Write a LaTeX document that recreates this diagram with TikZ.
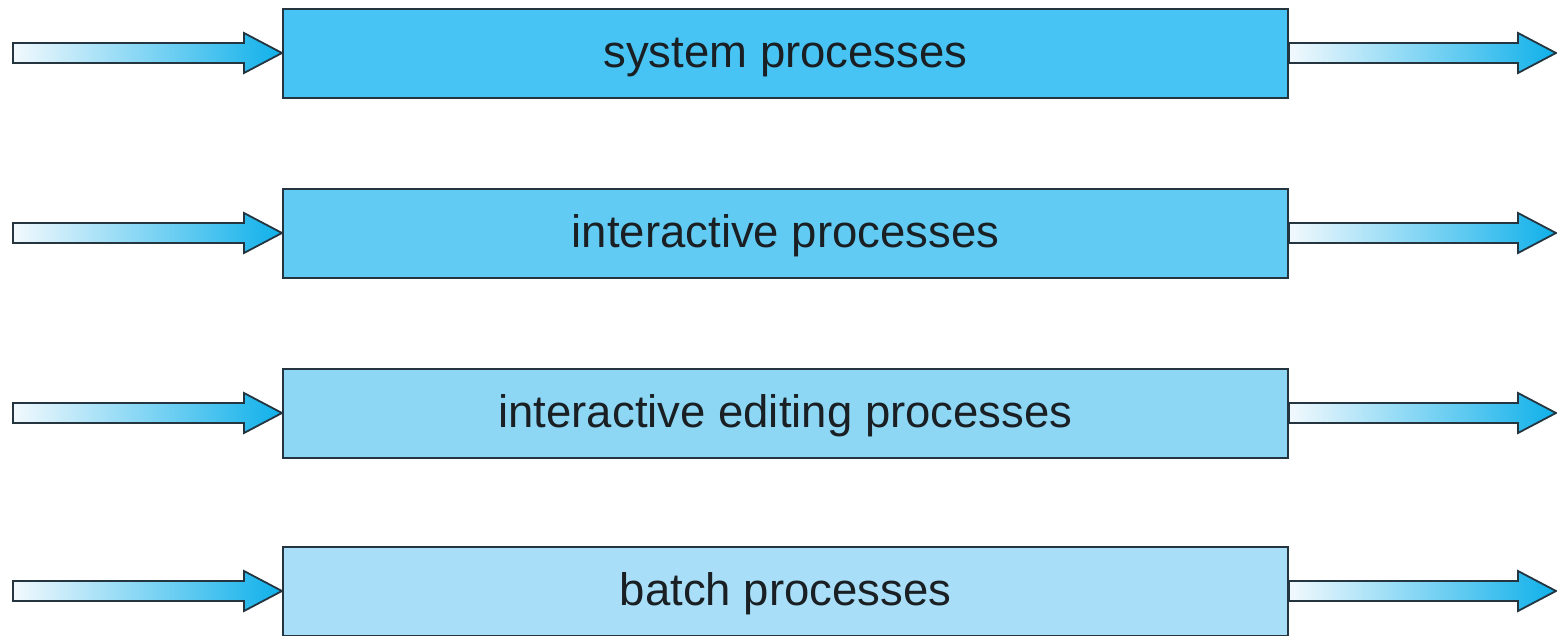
\documentclass[tikz,border=0pt]{standalone}
\usepackage{fontspec}
\setmainfont{Liberation Sans}
\usetikzlibrary{calc}
\definecolor{edge}{HTML}{243540}
\definecolor{txt}{HTML}{1A1F24}
\definecolor{cA}{HTML}{47C4F3}
\definecolor{cB}{HTML}{62CBF3}
\definecolor{cC}{HTML}{8DD7F5}
\definecolor{cD}{HTML}{A8DEF7}
\definecolor{arrL}{HTML}{F2F9FD}
\definecolor{arrR}{HTML}{0FB0EA}
\newcommand\fatarr[2]{%
  \path[fatarrow] let \p1=(#1), \p2=(#2) in
    (\x1,\y2+10pt) -- (\x2-38pt,\y2+10pt) -- (\x2-38pt,\y2+20pt) -- (\x2,\y2)
    -- (\x2-38pt,\y2-20pt) -- (\x2-38pt,\y2-10pt) -- (\x1,\y2-10pt) -- cycle;}
\begin{document}
\begin{tikzpicture}[x=1pt,y=-1pt,
  proc/.style={draw=edge, line width=2pt, minimum width=1005pt, minimum height=89pt,
    inner sep=0pt, text height=33pt, text depth=5pt,
    font=\fontsize{45.5}{54}\selectfont, text=txt},
  fatarrow/.style={draw=edge, line width=1.8pt, left color=arrL, right color=arrR, line join=miter}]
\useasboundingbox (0,0) rectangle (1557,635);
\node[proc, fill=cA] (b1) at (785.5,53) {system processes};
\node[proc, fill=cB] (b2) at (785.5,233) {interactive processes};
\node[proc, fill=cC] (b3) at (785.5,413) {interactive editing processes};
\node[proc, fill=cD] (b4) at (785.5,591) {batch processes};
\foreach \i/\y in {1/53,2/233,3/413,4/591}{
  \coordinate (in\i) at (13,\y);
  \coordinate (out\i) at (1556,\y);
  \fatarr{in\i}{b\i.west}
  \fatarr{b\i.east}{out\i}
}
\end{tikzpicture}
\end{document}
